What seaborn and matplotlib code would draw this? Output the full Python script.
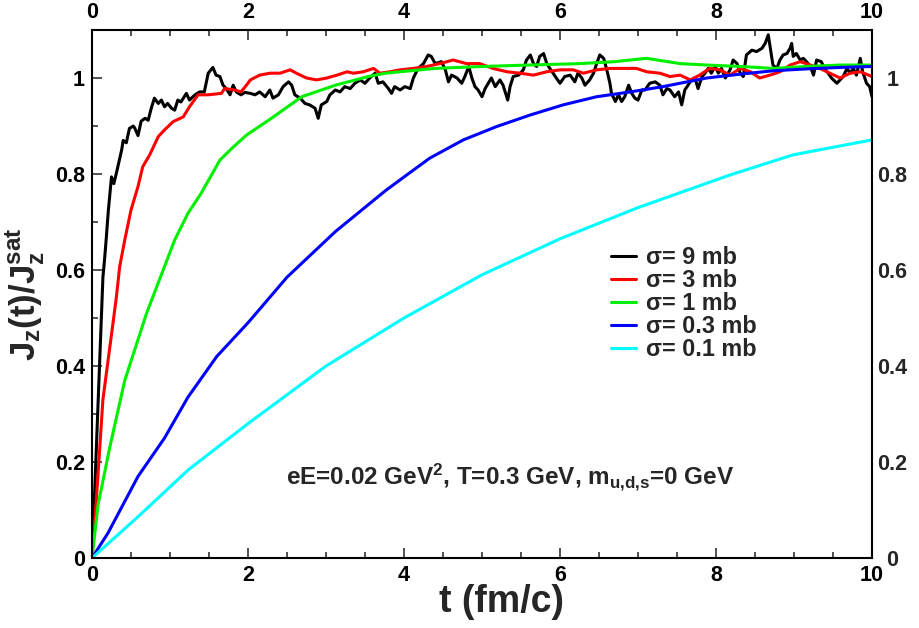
import matplotlib
matplotlib.use("Agg")
import matplotlib.pyplot as plt
from matplotlib.ticker import MultipleLocator, FuncFormatter
import seaborn as sns
import pandas as pd

# ---- data ----
t_9mb = [0, 0.03, 0.08, 0.14, 0.16, 0.18, 0.21, 0.25, 0.28, 0.31, 0.38, 0.40, 0.44, 0.48, 0.53, 0.55, 0.59, 0.63,
         0.68, 0.72, 0.76, 0.80, 0.85, 0.89, 0.93, 0.97, 1.02, 1.06, 1.10, 1.14, 1.21, 1.25, 1.32, 1.38, 1.44, 1.49,
         1.55, 1.59, 1.64, 1.68, 1.72, 1.77, 1.81, 1.85, 1.91, 1.96, 2.03, 2.09, 2.15, 2.22, 2.28, 2.32, 2.39, 2.45,
         2.52, 2.56, 2.60, 2.67, 2.73, 2.79, 2.86, 2.90, 2.94, 3.01, 3.05, 3.12, 3.18, 3.24, 3.31, 3.37, 3.44, 3.50,
         3.56, 3.63, 3.67, 3.73, 3.80, 3.84, 3.88, 3.95, 4.01, 4.08, 4.12, 4.18, 4.25, 4.31, 4.35, 4.40, 4.48, 4.53,
         4.57, 4.61, 4.68, 4.74, 4.78, 4.83, 4.87, 4.91, 4.95, 5.00, 5.04, 5.08, 5.12, 5.17, 5.23, 5.27, 5.33, 5.36,
         5.40, 5.47, 5.53, 5.57, 5.62, 5.66, 5.70, 5.74, 5.79, 5.83, 5.87, 5.94, 6.00, 6.06, 6.13, 6.19, 6.23, 6.28,
         6.32, 6.38, 6.43, 6.47, 6.51, 6.56, 6.60, 6.64, 6.66, 6.71, 6.75, 6.79, 6.83, 6.88, 6.92, 6.96, 7.00, 7.05,
         7.09, 7.15, 7.22, 7.28, 7.32, 7.37, 7.41, 7.47, 7.52, 7.56, 7.60, 7.67, 7.73, 7.77, 7.82, 7.86, 7.90, 7.94,
         7.99, 8.03, 8.07, 8.12, 8.18, 8.22, 8.27, 8.31, 8.35, 8.39, 8.46, 8.52, 8.59, 8.63, 8.67, 8.71, 8.73, 8.78,
         8.82, 8.86, 8.91, 8.95, 8.97, 8.99, 9.03, 9.08, 9.12, 9.16, 9.21, 9.25, 9.29, 9.35, 9.40, 9.44, 9.48, 9.55,
         9.59, 9.63, 9.68, 9.72, 9.76, 9.80, 9.85, 9.88, 9.93, 9.97, 10.0]
j_9mb = [0, 0.12, 0.33, 0.585, 0.62, 0.66, 0.725, 0.794, 0.78, 0.80, 0.85, 0.87, 0.865, 0.895, 0.90, 0.895, 0.88, 0.91,
         0.916, 0.912, 0.937, 0.958, 0.947, 0.954, 0.94, 0.947, 0.937, 0.933, 0.954, 0.95, 0.968, 0.954, 0.965, 0.971,
         0.971, 1.01, 1.022, 1.006, 1.003, 0.985, 0.978, 0.965, 0.985, 0.971, 0.965, 0.97, 0.968, 0.965, 0.971, 0.961,
         0.975, 0.958, 0.965, 0.982, 0.992, 0.985, 0.965, 0.958, 0.947, 0.944, 0.937, 0.916, 0.944, 0.951, 0.965, 0.975,
         0.971, 0.982, 0.978, 0.989, 0.996, 0.989, 1.0, 1.01, 0.989, 0.992, 0.978, 0.968, 0.982, 0.975, 0.982, 0.978,
         1.0, 1.02, 1.03, 1.048, 1.045, 1.03, 1.034, 1.017, 0.992, 1.006, 1.0, 0.989, 1.003, 1.024, 1.0, 0.982, 0.975,
         0.961, 0.978, 0.989, 1.0, 0.982, 0.996, 0.985, 0.954, 0.982, 1.003, 1.006, 1.017, 1.0375, 1.048, 1.03, 1.024,
         1.045, 1.051, 1.03, 1.02, 1.003, 0.989, 1.003, 1.006, 0.992, 1.01, 1.0, 0.985, 0.996, 1.01, 1.03, 1.048, 1.041,
         1.017, 0.989, 0.968, 0.951, 0.965, 0.951, 0.961, 0.985, 0.968, 0.958, 0.954, 0.975, 0.975, 0.989, 0.992, 0.985,
         0.965, 0.978, 0.975, 0.961, 0.971, 0.944, 0.975, 0.992, 1.0, 0.978, 1.003, 1.01, 1.02, 1.01, 1.024, 1.01, 1.02,
         1.0, 1.017, 1.0375, 1.03, 1.01, 1.003, 1.048, 1.058, 1.055, 1.062, 1.072, 1.09, 1.048, 1.027, 1.02, 1.0375,
         1.048, 1.051, 1.062, 1.072, 1.045, 1.051, 1.0375, 1.041, 1.034, 1.024, 1.006, 1.0375, 1.034, 1.017, 1.01, 1.0,
         0.989, 0.996, 1.003, 1.02, 1.01, 1.02, 1.006, 1.041, 1.013, 0.989, 0.982, 0.961]

t_3mb = [0, 0.055, 0.14, 0.31, 0.355, 0.42, 0.50, 0.59, 0.65, 0.74, 0.85, 0.93, 1.04, 1.17, 1.25, 1.36, 1.49, 1.66,
         1.70, 1.83, 1.91, 1.98, 2.03, 2.15, 2.28, 2.41, 2.54, 2.62, 2.75, 2.88, 3.01, 3.14, 3.27, 3.35, 3.48, 3.61,
         3.69, 3.82, 3.95, 4.12, 4.29, 4.46, 4.63, 4.80, 4.97, 5.14, 5.32, 5.49, 5.66, 5.83, 6.00, 6.17, 6.30, 6.47,
         6.64, 6.81, 6.98, 7.11, 7.28, 7.41, 7.54, 7.67, 7.79, 7.92, 8.05, 8.18, 8.31, 8.44, 8.56, 8.69, 8.82, 8.95,
         9.08, 9.21, 9.33, 9.46, 9.59, 9.72, 9.85, 10.0]
j_3mb = [0, 0.12, 0.33, 0.54, 0.607, 0.6625, 0.725, 0.774, 0.815, 0.84, 0.878, 0.892, 0.909, 0.919, 0.94, 0.965, 0.965,
         0.968, 0.978, 0.975, 0.971, 0.985, 0.996, 1.006, 1.01, 1.01, 1.017, 1.01, 1.0, 0.996, 1.0, 1.006, 1.013, 1.01,
         1.013, 1.02, 1.01, 1.013, 1.017, 1.02, 1.024, 1.03, 1.0375, 1.03, 1.03, 1.02, 1.013, 1.01, 1.006, 1.013, 1.017,
         1.017, 1.01, 1.017, 1.02, 1.02, 1.02, 1.013, 1.01, 1.003, 1.006, 0.996, 1.006, 1.02, 1.017, 1.006, 1.02, 1.013,
         1.0, 1.006, 1.013, 1.027, 1.034, 1.027, 1.02, 1.01, 1.0, 1.01, 1.013, 1.003]

t_1mb = [0, 0.077, 0.227, 0.42, 0.70, 1.06, 1.23, 1.40, 1.64, 1.79, 1.98, 2.30, 2.69, 3.12, 3.54, 3.76, 4.40, 5.00,
         5.60, 6.26, 6.70, 7.11, 7.54, 7.88, 8.31, 8.73, 9.16, 9.59, 10.0]
j_1mb = [0, 0.11, 0.23, 0.37, 0.51, 0.6625, 0.718, 0.76, 0.829, 0.853, 0.881, 0.916, 0.961, 0.985, 1.003, 1.01, 1.02,
         1.024, 1.027, 1.03, 1.034, 1.041, 1.03, 1.027, 1.024, 1.02, 1.024, 1.027, 1.027]

t_03mb = [0, 0.205, 0.59, 0.93, 1.23, 1.6, 2.0, 2.5, 3.12, 3.76, 4.01, 4.33, 4.76, 5.19, 5.62, 6.04, 6.47, 6.90, 7.32,
          7.88, 8.31, 8.73, 9.16, 9.59, 10.0]
j_03mb = [0, 0.052, 0.17, 0.25, 0.335, 0.42, 0.49, 0.585, 0.68, 0.765, 0.795, 0.833, 0.871, 0.899, 0.923, 0.944, 0.961,
          0.971, 0.982, 1.0, 1.008, 1.015, 1.019, 1.022, 1.024]

t_01mb = [0, 0.59, 1.23, 2.0, 3.0, 4.0, 5.0, 6.0, 7.0, 8.18, 8.99, 10.0]
j_01mb = [0, 0.086, 0.183, 0.28, 0.40, 0.50, 0.59, 0.665, 0.73, 0.798, 0.84, 0.871]

labels = ["σ= 9 mb", "σ= 3 mb", "σ= 1 mb", "σ= 0.3 mb", "σ= 0.1 mb"]
colors = ["#000000", "#ff0000", "#00f000", "#0000ff", "#00ffff"]
x_ticks = [0, 2, 4, 6, 8, 10]
y_ticks = [0, 0.2, 0.4, 0.6, 0.8, 1.0]

series = [(t_9mb, j_9mb), (t_3mb, j_3mb), (t_1mb, j_1mb), (t_03mb, j_03mb), (t_01mb, j_01mb)]
frames = []
for (tt, jj), lab in zip(series, labels):
    frames.append(pd.DataFrame({"t": tt, "J": jj, "sigma": lab}))
df = pd.concat(frames, ignore_index=True)

sns.set_style("ticks")
plt.rcParams["font.family"] = ["Liberation Sans", "DejaVu Sans"]
plt.rcParams["font.weight"] = "bold"
plt.rcParams["mathtext.fontset"] = "custom"
plt.rcParams["mathtext.rm"] = "Liberation Sans:bold"
plt.rcParams["mathtext.bf"] = "Liberation Sans:bold"
plt.rcParams["mathtext.it"] = "Liberation Sans:bold"
plt.rcParams["mathtext.default"] = "bf"

fig = plt.figure(figsize=(9.2, 6.28), dpi=100)
ax = fig.add_axes([92 / 920, 1 - 558 / 628, 780 / 920, 528 / 628])

sns.lineplot(data=df, x="t", y="J", hue="sigma", palette=dict(zip(labels, colors)),
             hue_order=labels, estimator=None, sort=False, linewidth=2.2, ax=ax)

fmt = FuncFormatter(lambda v, p: f"{v:g}")
ax.set_xlim(0, 10)
ax.set_ylim(0, 1.1)
ax.set_xticks(x_ticks)
ax.set_yticks(y_ticks)
ax.xaxis.set_minor_locator(MultipleLocator(0.5))
ax.yaxis.set_minor_locator(MultipleLocator(0.1))
ax.xaxis.set_major_formatter(fmt)
ax.yaxis.set_major_formatter(fmt)
ax.tick_params(which="both", direction="in", top=True, right=True, labeltop=True, labelright=False,
               labelsize=15.5, width=1.2, colors="#333333", labelcolor="black")
ax.tick_params(which="major", length=7.5, pad=5)
ax.tick_params(which="minor", length=4.3)
for lab in ax.get_xticklabels() + ax.get_yticklabels():
    lab.set_fontweight("bold")
for s in ax.spines.values():
    s.set_linewidth(1.5)
    s.set_color("black")

# right-hand labels, centred as in the reference
ax2 = ax.twinx()
ax2.set_ylim(0, 1.1)
ax2.set_yticks(y_ticks)
ax2.yaxis.set_major_formatter(fmt)
ax2.yaxis.set_minor_locator(MultipleLocator(0.1))
ax2.tick_params(which="both", length=0, labelsize=15.5, pad=14.5)
for lab in ax2.get_yticklabels():
    lab.set_fontweight("bold")
    lab.set_horizontalalignment("center")
for s in ax2.spines.values():
    s.set_visible(False)

ax.set_xlabel("t (fm/c)", fontsize=27, fontweight="bold")
ax.xaxis.set_label_coords(0.525, -0.05)
ax.xaxis.label.set_va("top")
ax.set_ylabel(r"J$_\mathbf{z}$(t)/J$_\mathbf{z}^\mathbf{sat}$", fontsize=25, fontweight="bold")
ax.yaxis.set_label_coords(-0.058, 0.5)

ax.text(8.24, 0.167, r"eE=0.02 GeV$^\mathbf{2}$, T=0.3 GeV, m$_\mathbf{u{,}d{,}s}$=0 GeV",
        fontsize=17.5, fontweight="bold", ha="right", va="center")

leg = ax.legend(loc="upper left", bbox_to_anchor=(0.6655, 0.591), frameon=False, fontsize=16.8,
                handlelength=1.05, handletextpad=0.45, labelspacing=0.0, borderpad=0, borderaxespad=0)
for txt in leg.get_texts():
    txt.set_fontweight("bold")
for line in leg.get_lines():
    line.set_linewidth(2.2)

fig.savefig("out.png", dpi=100)
